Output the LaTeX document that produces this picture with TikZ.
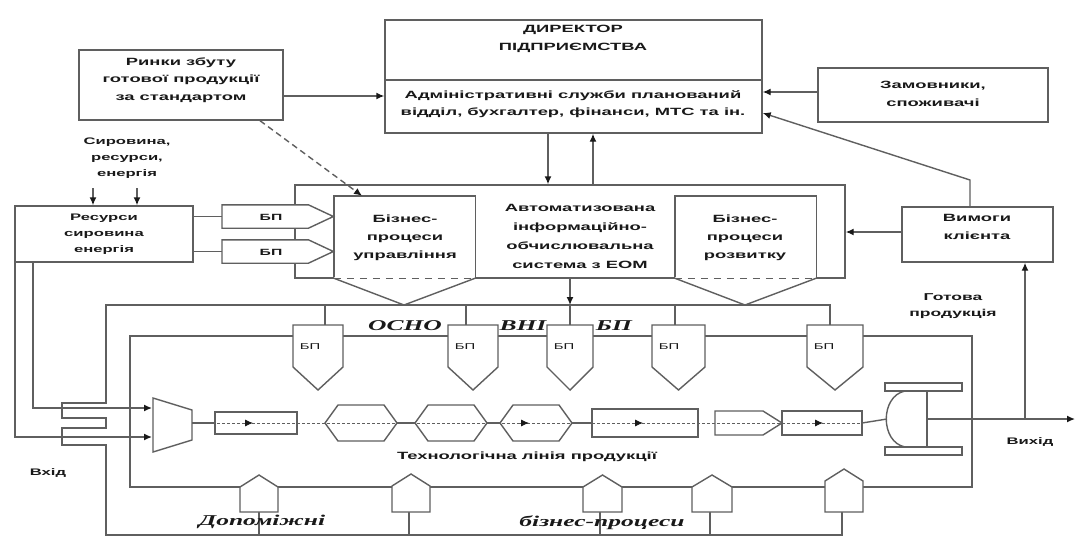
\documentclass[tikz,border=0pt]{standalone}
\usepackage{fontspec}
\setmainfont{Liberation Sans}
\newfontfamily\wb[FakeStretch=1.75]{Liberation Sans}
\newfontfamily\wi[FakeStretch=1.7]{Liberation Serif}
\usetikzlibrary{arrows.meta}
\definecolor{lc}{RGB}{95,95,95}
\definecolor{tc}{RGB}{25,25,25}
\begin{document}
\begin{tikzpicture}[x=1pt,y=-1pt,
 ln/.style={draw=lc, line width=1.4pt},
 arr/.style={ln, -{Latex[length=8pt,width=7pt,color=tc]}},
 box/.style={ln, fill=white, inner sep=0pt},
 tx/.style={inner sep=0pt, align=center, text=tc, font={\wb\bfseries\fontsize{10.5}{17.5}\selectfont}},
 txs/.style={inner sep=0pt, align=center, text=tc, font={\wb\bfseries\fontsize{9.5}{16}\selectfont}},
 sm/.style={inner sep=0pt, text=tc, font={\wb\fontsize{8.5}{10}\selectfont}},
 smb/.style={inner sep=0pt, text=tc, font={\wb\bfseries\fontsize{9}{10}\selectfont}},
 it/.style={inner sep=0pt, text=tc, font={\wi\bfseries\itshape\fontsize{15}{16}\selectfont}},
 dsh/.style={ln, dash pattern=on 7pt off 6pt},
 thn/.style={draw=lc, line width=0.7pt, dash pattern=on 3pt off 2pt},
]
\useasboundingbox (0,0) rectangle (1075,547);
\fill[white] (0,0) rectangle (1075,547);

% ---------- top boxes
\node[box, minimum width=377pt, minimum height=113pt] (dir) at (573.5,76.5) {};
\draw[ln] (dir.west |- 0,80) -- (dir.east |- 0,80);
\node[tx] (dirT) at (573,39) {ДИРЕКТОР\\ПІДПРИЄМСТВА};
\node[tx] (dirB) at (573,104) {Адміністративні служби планований\\відділ, бухгалтер, фінанси, МТС та ін.};

\node[box, minimum width=204pt, minimum height=70pt] (mkt) at (181,85) {};
\node[tx] (mktT) at (181,80) {Ринки збуту\\готової продукції\\за стандартом};

\node[box, minimum width=230pt, minimum height=54pt] (zam) at (933,95) {};
\node[tx] (zamT) at (933,94) {Замовники,\\споживачі};

\node[box, minimum width=151pt, minimum height=55pt] (vym) at (977.5,234.5) {};
\node[tx] (vymT) at (977,227) {Вимоги\\клієнта};

\node[box, minimum width=178pt, minimum height=56pt] (res) at (104,234) {};
\node[txs] (resT) at (104,234) {Ресурси\\сировина\\енергія};

\node[txs] (srcT) at (127,158) {Сировина,\\ресурси,\\енергія};
\coordinate (s1) at (93,188);
\coordinate (s2) at (137,188);
\draw[arr] (s1) -- (res.north -| s1);
\draw[arr] (s2) -- (res.north -| s2);

% ---------- AIOS block
\node[box, minimum width=550pt, minimum height=93pt] (aios) at (570,231.5) {};
\node[inner sep=0pt, minimum width=141pt, minimum height=82pt] (mgmt) at (404.5,237) {};
\node[inner sep=0pt, minimum width=141pt, minimum height=82pt] (dev) at (745.5,237) {};
\foreach \n in {mgmt,dev}{
  \draw[ln, fill=white] (\n.south west) -- (\n.north west) -- (\n.north east) -- (\n.south east);
  \draw[white, line width=2.4pt] (\n.south west) -- (\n.south east);
  \draw[dsh] (\n.south west) -- (\n.south east);
}
\coordinate (ap1) at (404,305);
\coordinate (ap2) at (745,305);
\draw[ln] (mgmt.south west) -- (ap1) -- (mgmt.south east);
\draw[ln] (dev.south west) -- (ap2) -- (dev.south east);
\node[tx, font={\wb\bfseries\fontsize{10.5}{18}\selectfont}] (mgmtT) at (405,238) {Бізнес-\\процеси\\управління};
\node[tx, font={\wb\bfseries\fontsize{10.5}{18}\selectfont}] (devT) at (745,238) {Бізнес-\\процеси\\розвитку};
\node[tx, font={\wb\bfseries\fontsize{10.5}{19}\selectfont}] (aiosT) at (580,236.5) {Автоматизована\\інформаційно-\\обчислювальна\\система з ЕОМ};

% left BP arrows
\node[inner sep=0pt, minimum width=86pt, minimum height=23pt, anchor=west] (bpa) at (222,216.5) {};
\node[inner sep=0pt, minimum width=86pt, minimum height=23pt, anchor=west] (bpb) at (222,251.5) {};
\foreach \n in {bpa,bpb}{
  \draw[ln, fill=white] (\n.south west) -- (\n.north west) -- (\n.north east) -- ([xshift=25pt]\n.east) -- (\n.south east) -- cycle;
}
\node[smb] (bpaT) at (271,217) {БП};
\node[smb] (bpbT) at (271,252) {БП};
\draw[ln] (res.east |- bpa.west) -- (bpa.west);
\draw[ln] (res.east |- bpb.west) -- (bpb.west);

% ---------- connectors of the upper part
\draw[arr] (mkt.east |- 0,96) -- (dir.west |- 0,96);
\draw[arr, dash pattern=on 6pt off 4pt] (mkt.south -| 260,0) -- (mgmt.north -| 362,0);
\draw[arr] (zam.west |- 0,92) -- (dir.east |- 0,92);
\draw[arr] (vym.north -| 970,0) -- (970,180) -- (dir.east |- 0,113);
\draw[arr] (vym.west |- 0,232) -- (aios.east |- 0,232);
\draw[arr] (dir.south -| 548,0) -- (aios.north -| 548,0);
\draw[arr] (aios.north -| 593,0) -- (dir.south -| 593,0);

% ---------- lower frames
\draw[ln] (130,336) rectangle (972,487);
\draw[ln] (830,325) -- (830,305) -- (106,305) -- (106,403) -- (62,403) -- (62,418) -- (106,418)
  -- (106,428) -- (62,428) -- (62,445) -- (106,445) -- (106,535) -- (842,535) -- (842,512);
\draw[arr] (aios.south -| 570,0) -- (570,305);

% top BP pentagons
\foreach \i/\xa/\xb/\xc in {1/293/343/325, 2/448/498/466, 3/547/593/570, 4/652/705/675, 5/807/863/830}{
  \draw[ln] (\xc,305) -- (\xc,325);
  \draw[ln, fill=white] (\xa,325) -- (\xb,325) -- (\xb,367) -- ({(\xa+\xb)/2},390) -- (\xa,367) -- cycle;
  \node[sm] (bpl\i) at (\xa+17,347) {БП};
}

% bottom house shapes
\foreach \i/\xa/\xb/\xc/\pk in {1/240/278/259/475, 2/392/430/409/474, 3/583/622/600/475, 4/692/732/710/475, 5/825/863/842/469}{
  \draw[ln] (\xc,512) -- (\xc,535);
  \draw[ln, fill=white] (\xa,512) -- (\xa,\pk+12) -- ({(\xa+\xb)/2},\pk) -- (\xb,\pk+12) -- (\xb,512) -- cycle;
}

% ---------- technological line
\draw[thn] (192,423) -- (862,423);
\draw[ln] (153,398) -- (192,410) -- (192,440) -- (153,452) -- cycle;
\draw[arr] (res.south -| 15,0) -- (15,437) -- (152,437);
\draw[arr] (res.south -| 33,0) -- (33,408) -- (152,408);
\draw[ln] (192,423) -- (215,423);
\draw[ln] (215,412) rectangle (297,434);
\foreach \xa in {325,415,500}{
  \draw[ln] (\xa,423) -- (\xa+13,405) -- (\xa+59,405) -- (\xa+72,423) -- (\xa+59,441) -- (\xa+13,441) -- cycle;
}
\draw[ln] (397,423) -- (415,423);
\draw[ln] (487,423) -- (500,423);
\draw[ln] (572,423) -- (592,423);
\draw[ln] (592,409) rectangle (698,437);
\draw[ln] (715,411) -- (763,411) -- (782,423) -- (763,435) -- (715,435) -- cycle;
\draw[ln] (782,411) rectangle (862,435);
\foreach \ax in {253,529,643,823}{
  \draw[arr, line width=0.8pt] (\ax-11,423) -- (\ax,423);
}
% output device
\draw[ln] (885,383) rectangle (962,391);
\draw[ln] (885,447) rectangle (962,455);
\draw[ln] (905,391) .. controls (880,396) and (880,442) .. (905,447);
\draw[ln] (927,391) -- (927,447);
\draw[ln] (862,423) -- (887,419);
\draw[arr] (927,419) -- (1075,419);
\draw[arr] (1025,419) -- (vym.south -| 1025,0);

% ---------- labels
\node[tx] (techT) at (527,457) {Технологічна лінія продукції};
\node[txs] (inT) at (48,473) {Вхід};
\node[txs] (outT) at (1030,442) {Вихід};
\node[tx, font={\wb\bfseries\fontsize{10}{16}\selectfont}] (gotT) at (953,306) {Готова\\продукція};
\node[it] (it1) at (405,326) {ОСНО};
\node[it] (it2) at (523,326) {ВНІ};
\node[it] (it3) at (614,326) {БП};
\node[it] (it4) at (262,522) {Допоміжні};
\node[it] (it5) at (602,523) {бізнес-процеси};
\end{tikzpicture}
\end{document}
